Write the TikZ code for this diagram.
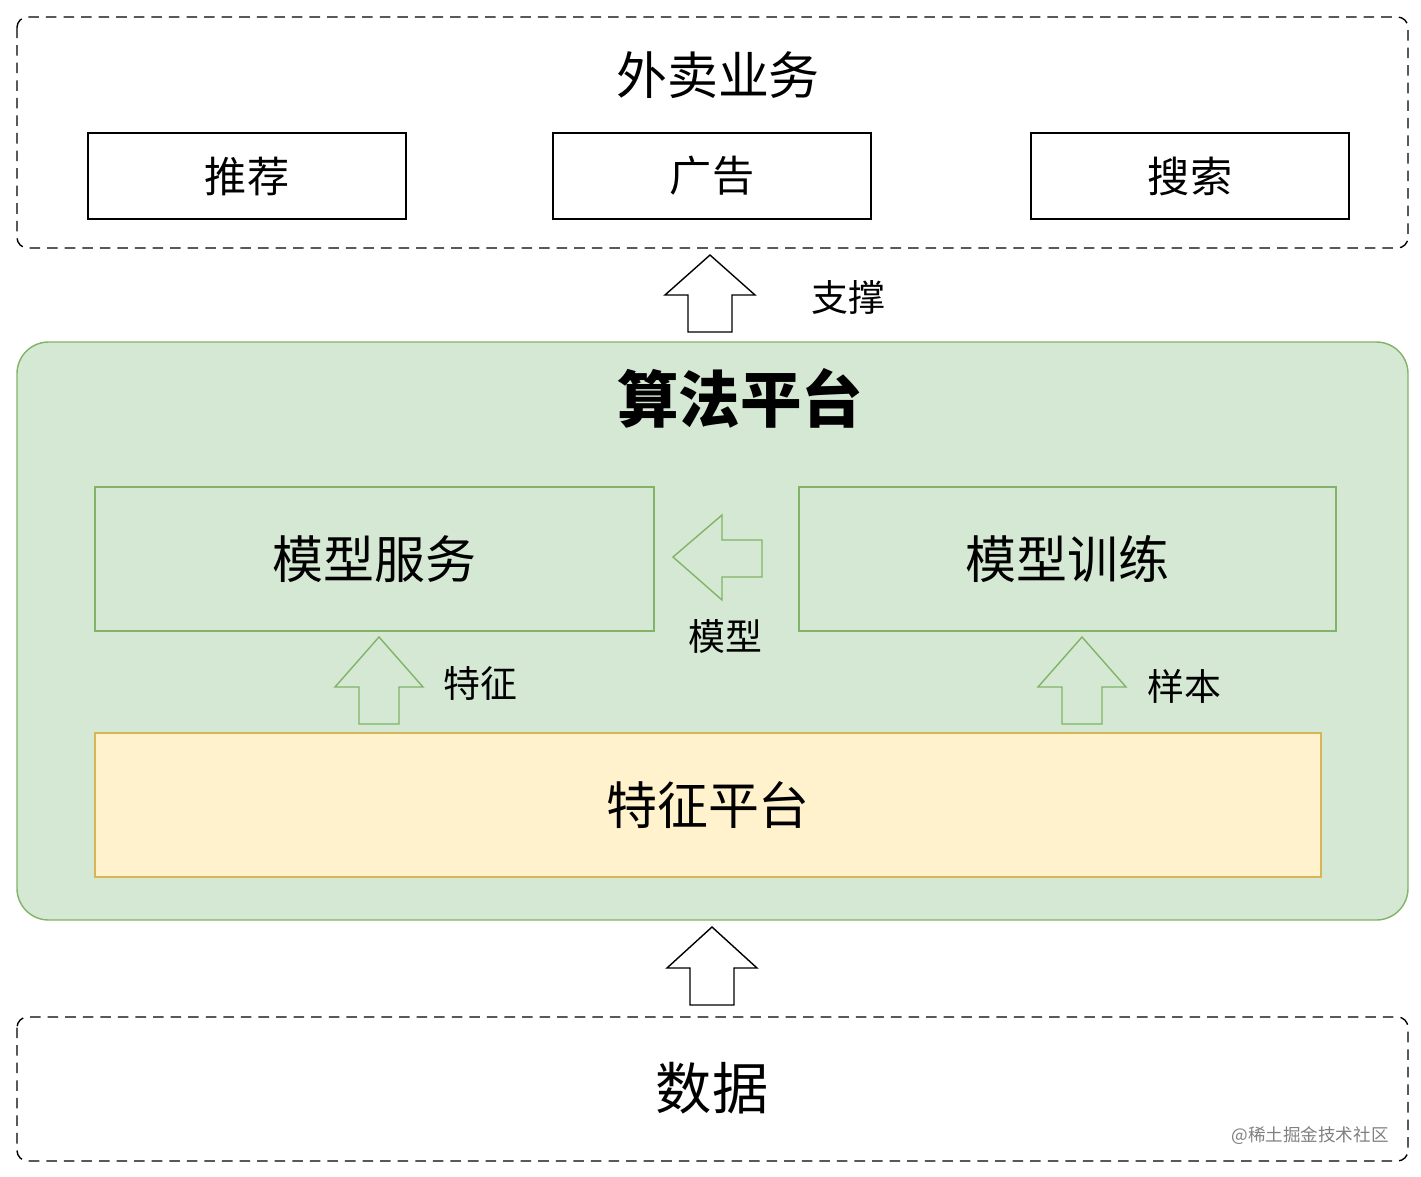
\documentclass[tikz,border=0pt]{standalone}
\usepackage{fontspec}
\setmainfont{Noto Sans CJK SC}
\usetikzlibrary{positioning}
\definecolor{lgreen}{HTML}{D5E8D4}
\definecolor{dgreen}{HTML}{82B366}
\definecolor{lyellow}{HTML}{FFF2CC}
\definecolor{dyellow}{HTML}{D6B656}
\tikzset{
  dashbox/.style={draw, thick, dash pattern=on 6pt off 4pt, rounded corners=6pt},
  bizbox/.style={draw, thick, minimum width=6.36cm, minimum height=1.72cm, font=\fontsize{24}{28}\selectfont},
  subbox/.style={draw=dgreen, thick, minimum width=11.18cm, minimum height=2.88cm, font=\fontsize{29}{34}\selectfont},
  lbl/.style={font=\fontsize{21}{25}\selectfont},
  hollow/.style={draw, thick, fill=white},
  ghollow/.style={draw=dgreen, thick, fill=lgreen}
}
% hollow up arrow: x, tip y, head base y, bottom y, half head, half shaft, style
\newcommand\uparr[7]{%
  \draw[#7] (#1,#2) -- (#1+#5,#3) -- (#1+#6,#3) -- (#1+#6,#4) -- (#1-#6,#4)
    -- (#1-#6,#3) -- (#1-#5,#3) -- cycle;}
\begin{document}
\begin{tikzpicture}[x=0.02cm,y=-0.02cm]
\useasboundingbox (0,0) rectangle (1421,1177);

% business layer
\draw[dashbox] (17,17) rectangle (1408,248);
\node[font=\fontsize{29}{34}\selectfont] (biz) at (718,75) {外卖业务};
\node[bizbox] (rec) at (247,176) {推荐};
\node[bizbox] (ads) at (712,176) {广告};
\node[bizbox] (search) at (1190,176) {搜索};

% support arrow
\uparr{710}{255}{295}{332}{45}{22}{hollow}
\node[lbl] (support) at (848,297) {支撑};

% algorithm platform
\draw[draw=dgreen, thick, fill=lgreen, rounded corners=18pt] (17,342) rectangle (1408,920);
\node[font=\fontsize{35}{40}\selectfont\bfseries] (algo) at (740,398) {算法平台};
\node[subbox] (serve) at (374.5,559) {模型服务};
\node[subbox, minimum width=10.74cm] (train) at (1067.5,559) {模型训练};
\node[draw=dyellow, thick, fill=lyellow, minimum width=24.52cm, minimum height=2.88cm,
  font=\fontsize{29}{34}\selectfont] (feat) at (708,805) {特征平台};

% model arrow
\draw[ghollow] (673,557) -- (722,515) -- (722,540) -- (762,540) -- (762,577)
  -- (722,577) -- (722,600) -- cycle;
\node[lbl] (model) at (725,636) {模型};

% feature and sample arrows
\uparr{379}{637}{687}{724}{44}{20}{ghollow}
\node[lbl] (featlbl) at (480,683) {特征};
\uparr{1082}{637}{687}{724}{44}{20}{ghollow}
\node[lbl] (sample) at (1184,686) {样本};

% data arrow
\uparr{712}{927}{968}{1005}{45}{22}{hollow}

% data layer
\draw[dashbox] (17,1017) rectangle (1408,1161);
\node[font=\fontsize{32}{37}\selectfont] (data) at (712,1088) {数据};
\node[text=gray, font=\fontsize{10}{12}\selectfont] (mark) at (1310,1136) {@稀土掘金技术社区};
\end{tikzpicture}
\end{document}
